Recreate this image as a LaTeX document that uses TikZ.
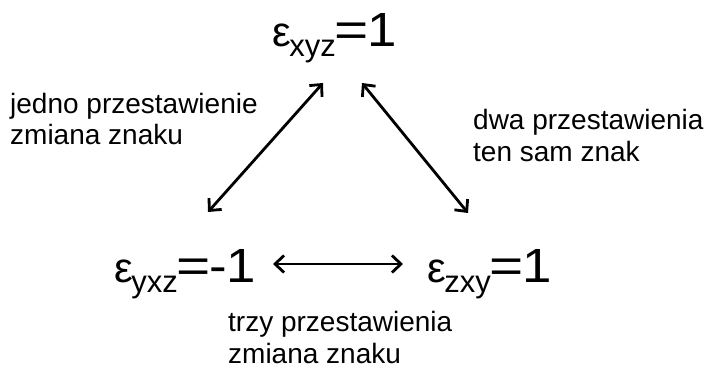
\documentclass[tikz,border=0pt]{standalone}
\usepackage{fontspec}
\setmainfont{Liberation Sans}
\usetikzlibrary{arrows.meta}
\newcommand\epsterm[2]{{\fontsize{42}{42}\selectfont ε}\kern-1.5pt\raisebox{-10pt}{\fontsize{31}{31}\selectfont #1}\kern-1.5pt{\fontsize{48}{48}\selectfont\scalebox{1.22}[1]{=}\kern-1.5pt\scalebox{1.1}[1]{#2}}}
\begin{document}
\begin{tikzpicture}[x=1pt,y=-1pt,
  eqnode/.style={anchor=base west,inner sep=0pt,text=black},
  lbl/.style={anchor=base west,inner sep=0pt,align=left,font=\fontsize{28}{32}\selectfont,text=black},
  dbl/.style={line width=2.8pt,{Straight Barb[length=9pt,width=17pt]}-{Straight Barb[length=9pt,width=17pt]}}]
\useasboundingbox (0,0) rectangle (721,369);
\node[eqnode] (xyz) at (272,47) {\epsterm{xyz}{1}};
\node[eqnode] (yxz) at (114,282) {\epsterm{yxz}{-1}};
\node[eqnode] (zxy) at (427,282) {\epsterm{zxy}{1}};
\node[lbl] (l1) at (10,145) {jedno przestawienie\\zmiana znaku};
\node[lbl] (l2) at (473,161) {dwa przestawienia\\ten sam znak};
\node[lbl] (l3) at (228,363) {trzy przestawienia\\zmiana znaku};
\coordinate (t1) at (323,83);
\coordinate (b1) at (208,212);
\coordinate (t2) at (362,83);
\coordinate (b2) at (468,213);
\coordinate (h1) at (273,264);
\coordinate (h2) at (403,264);
\draw[dbl] (t1) -- (b1);
\draw[dbl] (t2) -- (b2);
\draw[dbl] (h1) -- (h2);
\end{tikzpicture}
\end{document}
